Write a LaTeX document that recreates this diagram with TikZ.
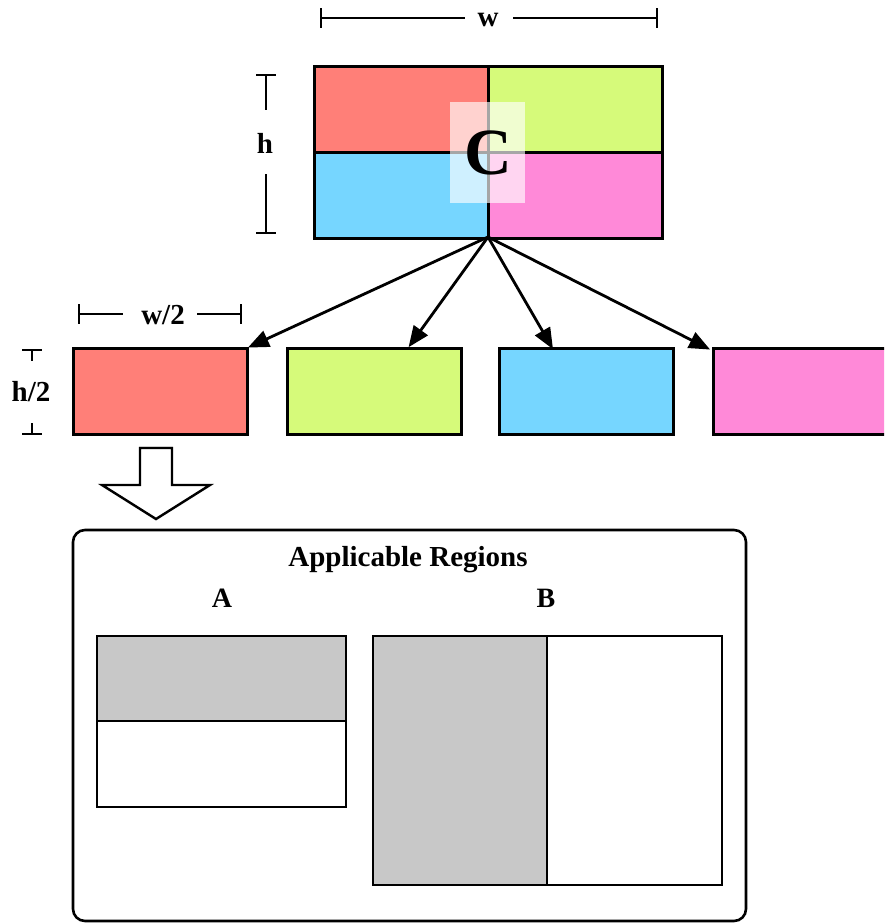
\documentclass[tikz,border=0pt]{standalone}
\usepackage{fontspec}
\setmainfont{Liberation Serif}
\usetikzlibrary{arrows.meta,shadows,calc}
\definecolor{cred}{RGB}{255,127,120}
\definecolor{cgreen}{RGB}{214,250,122}
\definecolor{cblue}{RGB}{118,214,255}
\definecolor{cpink}{RGB}{255,137,216}
\definecolor{cgray}{RGB}{200,200,200}
\tikzset{
  cell/.style={draw=black, line width=3pt, inner sep=0pt, outer sep=0pt},
  half/.style={cell, minimum width=174pt, minimum height=86pt},
  quad/.style={cell, minimum width=174pt, minimum height=86pt},
  dim/.style={line width=2.6pt},
  lbl/.style={font=\bfseries\fontsize{29}{32}\selectfont, inner sep=0pt},
  split/.style={-{Triangle[length=21pt,width=17pt]}, line width=2.8pt, shorten >=1pt},
  region/.style={draw=black, line width=2.6pt},
}
\begin{document}
\begin{tikzpicture}[x=1pt,y=-1pt]
\useasboundingbox (0,0) rectangle (884,924);
\clip (0,0) rectangle (884,924);

% width dimension of the whole block
\node[lbl] (wl) at (488,20) {w};
\coordinate (w1) at (321,18);
\coordinate (w2) at (657,18);
\draw[dim] (w1) -- (465,18) (513,18) -- (w2);
\draw[dim] ($(w1)+(0,-10)$) -- ($(w1)+(0,10)$);
\draw[dim] ($(w2)+(0,-10)$) -- ($(w2)+(0,10)$);

% height dimension of the whole block
\node[lbl] (hl) at (265,143) {h};
\coordinate (h1) at (266,75);
\coordinate (h2) at (266,233);
\draw[dim] (h1) -- (266,110) (266,174) -- (h2);
\draw[dim] ($(h1)+(-10,0)$) -- ($(h1)+(10,0)$);
\draw[dim] ($(h2)+(-10,0)$) -- ($(h2)+(10,0)$);

% the block and its four quarters
\node[quad, fill=cred]   (q1) at (401.5,109) {};
\node[quad, fill=cgreen] (q2) at (575.5,109) {};
\node[quad, fill=cblue]  (q3) at (401.5,195) {};
\node[quad, fill=cpink]  (q4) at (575.5,195) {};
\fill[white, opacity=0.65] (450,102) rectangle (525,203);
\node[font=\bfseries\fontsize{66}{66}\selectfont, inner sep=0pt] (c) at (488,153) {C};
\coordinate (root) at (488,237);

% the four halves
\node[half, fill=cred]   (r1) at (160,391) {};
\node[half, fill=cgreen] (r2) at (374,391) {};
\node[half, fill=cblue]  (r3) at (586.5,391) {};
\node[half, fill=cpink]  (r4) at (800,391) {};

\draw[split] (root) -- (r1.north east);
\draw[split] (root) -- ([xshift=34pt]r2.north);
\draw[split] (root) -- ([xshift=-33pt,yshift=-2pt]r3.north);
\draw[split] (root) -- ([xshift=-2pt,yshift=-2pt]r4.north west);

% width dimension of a half
\node[lbl] (wh) at (163,315) {w/2};
\coordinate (u1) at (79,314);
\coordinate (u2) at (241,314);
\draw[dim] (u1) -- (123,314) (197,314) -- (u2);
\draw[dim] ($(u1)+(0,-10)$) -- ($(u1)+(0,10)$);
\draw[dim] ($(u2)+(0,-10)$) -- ($(u2)+(0,10)$);

% height dimension of a half
\node[lbl] (hh) at (31,392) {h/2};
\draw[dim] (22,350) -- (42,350) (32,350) -- (32,361);
\draw[dim] (22,434) -- (42,434) (32,434) -- (32,423);

% hollow arrow down to the regions
\draw[line width=2.4pt, fill=white, drop shadow={opacity=0.15, shadow xshift=0pt, shadow yshift=0pt, shadow scale=1.05}]
  (140,448) -- (172,448) -- (172,485) -- (210,485) -- (156,519) -- (102,485) -- (140,485) -- cycle;

% applicable regions panel
\draw[line width=2.6pt, rounded corners=12pt] (73,530) rectangle (746,921);
\node[font=\bfseries\fontsize{29}{32}\selectfont, inner sep=0pt] (title) at (408,560) {Applicable Regions};
\node[font=\bfseries\fontsize{28}{32}\selectfont, inner sep=0pt] (la) at (222,598) {A};
\node[font=\bfseries\fontsize{28}{32}\selectfont, inner sep=0pt] (lb) at (546,598) {B};

% region A: upper half marked
\fill[cgray] (97,636) rectangle (346,721);
\draw[region] (97,636) rectangle (346,807);
\draw[region] (97,721) -- (346,721);

% region B: left half marked
\fill[cgray] (373,636) rectangle (547,885);
\draw[region] (373,636) rectangle (722,885);
\draw[region] (547,636) -- (547,885);
\end{tikzpicture}
\end{document}
